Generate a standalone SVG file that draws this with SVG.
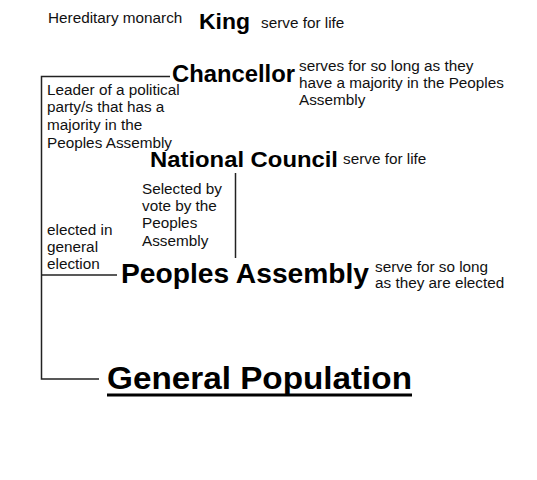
<svg xmlns="http://www.w3.org/2000/svg" width="537" height="480" viewBox="0 0 537 480">
<style>
.s{font-family:"Liberation Sans",Arial,sans-serif;font-size:15.3px;fill:#111}
.b{font-family:"Liberation Sans",Arial,sans-serif;font-weight:bold;fill:#000}
.ln{stroke:#222;stroke-width:1.5;fill:none}
</style>
<rect width="537" height="480" fill="#fff"/>
<g id="connectors">
<polyline class="ln" points="170,76.5 41.5,76.5 41.5,379 99,379"/>
<line class="ln" x1="41.5" y1="275" x2="117" y2="275"/>
<line class="ln" x1="235.5" y1="173" x2="235.5" y2="258"/>
</g>
<g id="king">
<text class="s" x="48" y="22.7">Hereditary monarch</text>
<text class="b" x="199" y="28.5" font-size="22" textLength="51" lengthAdjust="spacingAndGlyphs">King</text>
<text class="s" x="261" y="27.5">serve for life</text>
</g>
<g id="chancellor">
<text class="b" x="172" y="81.7" font-size="23" textLength="123" lengthAdjust="spacingAndGlyphs">Chancellor</text>
<text class="s" x="299"><tspan x="299" y="70.5">serves for so long as they</tspan><tspan x="299" y="88">have a majority in the Peoples</tspan><tspan x="299" y="105">Assembly</tspan></text>
<text class="s"><tspan x="47" y="95">Leader of a political</tspan><tspan x="47" y="112">party/s that has a</tspan><tspan x="47" y="129.5">majority in the</tspan><tspan x="47" y="147.5">Peoples Assembly</tspan></text>
</g>
<g id="national-council">
<text class="b" x="150" y="166.7" font-size="22.5" textLength="188" lengthAdjust="spacingAndGlyphs">National Council</text>
<text class="s" x="343" y="163.5">serve for life</text>
<text class="s"><tspan x="142" y="193.5">Selected by</tspan><tspan x="142" y="211">vote by the</tspan><tspan x="142" y="228.3">Peoples</tspan><tspan x="142" y="245.5">Assembly</tspan></text>
</g>
<g id="peoples-assembly">
<text class="b" x="121" y="282.7" font-size="27" textLength="248" lengthAdjust="spacingAndGlyphs">Peoples Assembly</text>
<text class="s"><tspan x="375" y="272.3">serve for so long</tspan><tspan x="375" y="288.3">as they are elected</tspan></text>
<text class="s"><tspan x="47" y="235">elected in</tspan><tspan x="47" y="251.5">general</tspan><tspan x="47" y="269.3">election</tspan></text>
</g>
<g id="general-population">
<text class="b" x="107" y="388.5" font-size="31" textLength="305" lengthAdjust="spacingAndGlyphs">General Population</text>
<rect x="107" y="393.5" width="305" height="3" fill="#000"/>
</g>
</svg>
